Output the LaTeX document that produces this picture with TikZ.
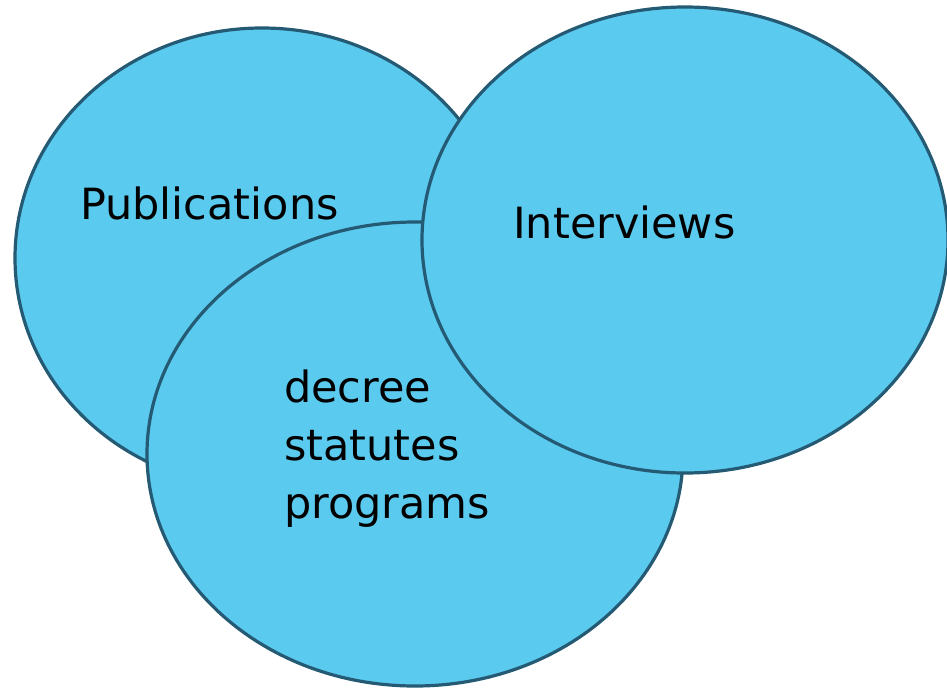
\documentclass[tikz,border=0pt]{standalone}
\usepackage{fontspec}
\setmainfont{DejaVu Sans}
\usetikzlibrary{shapes.geometric}
\definecolor{cfill}{HTML}{5BCAEF}
\definecolor{cline}{HTML}{245A73}
\tikzset{
  circ/.style={ellipse, draw=cline, fill=cfill, line width=3.2pt, inner sep=0pt},
  lbl/.style={anchor=base west, inner sep=0pt, font=\fontsize{43}{52}\selectfont, text=black}
}
\begin{document}
\begin{tikzpicture}[x=1pt,y=-1pt]
\useasboundingbox (0,0) rectangle (947,688);
\node[circ, minimum width=494pt, minimum height=460pt] (pub) at (262,258) {};
\node[circ, minimum width=536pt, minimum height=464pt] (dec) at (415,454) {};
\node[circ, minimum width=526pt, minimum height=466pt] (int) at (685,240) {};
\node[lbl] (tpub) at (80,219) {Publications};
\node[lbl] (tint) at (513,238) {Interviews};
\node[lbl] (t1) at (284,402) {decree};
\node[lbl] (t2) at (284,460) {statutes};
\node[lbl] (t3) at (284,518) {programs};
\end{tikzpicture}
\end{document}
